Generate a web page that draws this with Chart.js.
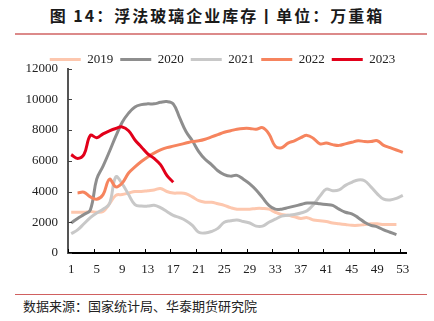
<!DOCTYPE html>
<html><head><meta charset="utf-8">
<script src="https://cdn.jsdelivr.net/npm/chart.js@4"></script>
<style>
html,body{margin:0;padding:0;background:#fff;width:434px;height:321px;overflow:hidden;position:relative;}
#title{position:absolute;left:0;top:4px;width:434px;text-align:center;font-family:"Noto Sans CJK SC",sans-serif;font-weight:bold;font-size:16px;letter-spacing:2px;color:#1a1a1a;line-height:22px;}
#tl{position:absolute;left:15px;top:33px;width:412px;height:2px;background:#dc8a8a;}
#bl{position:absolute;left:15px;top:294px;width:412px;height:1px;background:#d06060;}
#src{position:absolute;left:23px;top:297px;font-family:"Noto Sans CJK SC",sans-serif;font-size:13px;color:#222;line-height:17px;}
#wrap{position:absolute;left:0;top:46px;width:434px;height:237px;}
</style></head>
<body>
<div id="title">图 14：浮法玻璃企业库存丨单位：万重箱</div>
<div id="tl"></div>
<div id="wrap"><canvas id="c"></canvas></div>
<div id="bl"></div>
<div id="src">数据来源：国家统计局、华泰期货研究院</div>
<script>
const weeks = [1,2,3,4,5,6,7,8,9,10,11,12,13,14,15,16,17,18,19,20,21,22,23,24,25,26,27,28,29,30,31,32,33,34,35,36,37,38,39,40,41,42,43,44,45,46,47,48,49,50,51,52,53];
const yTicks = [0,2000,4000,6000,8000,10000,12000];
const seriesNames = ['2019','2020','2021','2022','2023'];
const y2019 = [2650,2650,2650,2700,2650,2700,3200,3750,3800,3900, 4000,4000,4050,4100,4200,4000,3900,3900,3850,3650, 3400,3300,3300,3200,3100,2950,2850,2850,2850,2900, 2900,2850,2650,2500,2450,2350,2250,2300,2150,2100, 2050,1950,1900,1850,1800,1800,1850,1900,1900,1850, 1850,1850];
const y2020 = [1950,2250,2500,2800,4800,5650,6600,7600,8500,9100, 9500,9650,9700,9700,9800,9850,9700,8800,7900,7300, 6600,6100,5750,5350,5100,5000,5050,4800,4500,4100, 3600,3100,2850,2850,2950,3050,3150,3250,3250,3200, 3150,3100,2850,2650,2550,2300,2000,1800,1700,1500, 1350,1200];
const y2021 = [1250,1500,1900,2300,2600,2850,3200,4950,4500,3800, 3150,3050,3050,3100,2950,2700,2450,2300,2100,1800, 1350,1300,1400,1600,2000,2100,2150,2050,1950,1750, 1750,2000,2200,2400,2450,2500,2600,2750,3150,3700, 4150,4050,4100,4400,4600,4750,4700,4300,3850,3500, 3450,3550,3750];
const y2022 = [null,3900,3950,3650,3500,3800,4800,4300,4550,5200, 5600,5950,6250,6500,6700,6850,6950,7050,7150,7250, 7300,7400,7550,7700,7850,7950,8050,8100,8100,8050, 8150,7750,6950,6850,7150,7300,7500,7650,7450,7100, 7150,7050,7000,7100,7200,7300,7250,7250,7300,7000, 6850,6700,6550];
const y2023 = [6400,6150,6400,7650,7500,7750,7950,8100,8200,7950, 7350,6900,6450,6150,5750,5050,4600];
const colors = ['#fdc7ae','#8e8e8e','#c8c8c8','#f6845e','#e2001a'];
const values = [y2019,y2020,y2021,y2022,y2023];
const orders = [4,2,3,1,0];

const serif = '"Liberation Serif","Times New Roman",serif';

const tickMarks = {
  id:'tickMarks',
  beforeLayout(chart){
    const lg = chart.legend;
    if (lg && !lg._patched){
      const of = lg.fit;
      lg.fit = function(){ of.call(this); this.height -= 7.5; };
      lg._patched = true;
    }
  },
  afterLayout(chart){
    const lg = chart.legend;
    if (lg){
      const d = 222.5 - (lg.left + lg.right)/2;
      lg.left += d; lg.right += d;
    }
  },
  afterDatasetsDraw(chart){
    const {ctx, chartArea:a, scales:{x,y}} = chart;
    ctx.save();
    ctx.strokeStyle = '#000';
    ctx.lineWidth = 1;
    const step = x.getPixelForValue(1) - x.getPixelForValue(0);
    ctx.beginPath();
    for (let i=0;i<weeks.length;i+=4){
      const px = Math.round(x.getPixelForValue(i) - step/2)+0.5;
      ctx.moveTo(px, a.bottom); ctx.lineTo(px, a.bottom-4);
    }
    ctx.stroke();
    ctx.strokeStyle = '#444';
    ctx.beginPath();
    for (const v of yTicks){
      const py = Math.round(y.getPixelForValue(v))+0.5;
      ctx.moveTo(a.left, py); ctx.lineTo(a.left+4, py);
    }
    ctx.stroke();
    ctx.restore();
  }
};

new Chart(document.getElementById('c'), {
  type:'line',
  data:{
    labels: weeks,
    datasets: seriesNames.map((n,i)=>({
      label:n, data:values[i], borderColor:colors[i], backgroundColor:colors[i],
      borderWidth:3, pointRadius:0, tension:0.4, order:orders[i], spanGaps:false
    }))
  },
  options:{
    responsive:true, maintainAspectRatio:false, animation:false,
    layout:{padding:{left:0,right:28,top:0,bottom:0}},
    plugins:{
      tooltip:{enabled:false},
      legend:{
        display:true, position:'top',
        labels:{
          usePointStyle:true, pointStyle:'line', pointStyleWidth:31, boxHeight:13,
          padding:7, color:'#222', font:{family:serif,size:13},
          sort:(a,b)=>a.datasetIndex-b.datasetIndex
        }
      }
    },
    scales:{
      x:{
        type:'category', offset:true,
        grid:{display:true, drawOnChartArea:false, drawTicks:false, offset:true},
        border:{display:true, color:'#000', width:2},
        ticks:{autoSkip:false, maxRotation:0, padding:9, color:'#222', font:{family:serif,size:13},
          callback:function(v,i){ return i%4===0 ? this.getLabelForValue(v) : null; }},
        afterFit(s){ s.height = 30; }
      },
      y:{
        min:0, max:12000,
        grid:{display:true, drawOnChartArea:false, drawTicks:false},
        border:{display:true, color:'#555', width:2},
        ticks:{stepSize:2000, padding:10, color:'#222', font:{family:serif,size:13},
          callback:(v)=>String(v)},
        afterFit(s){ s.width = 68; }
      }
    }
  },
  plugins:[tickMarks]
});
</script>
</body></html>
